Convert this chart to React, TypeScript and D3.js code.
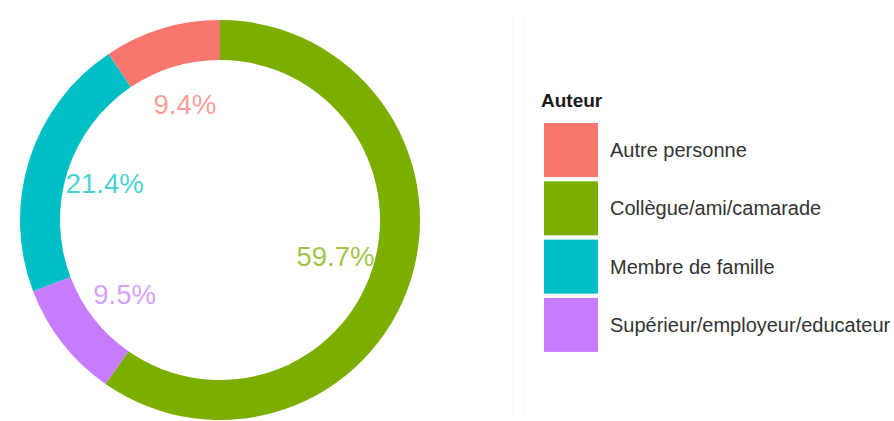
import React from "react";
import * as d3 from "d3";

const categories = [
  "Autre personne",
  "Collègue/ami/camarade",
  "Membre de famille",
  "Supérieur/employeur/educateur",
];
const colors = ["#F8766D", "#7CAE00", "#00BFC4", "#C77CFF"];
// drawing order clockwise from 12 o'clock
const ringOrder = [
  "Collègue/ami/camarade",
  "Supérieur/employeur/educateur",
  "Membre de famille",
  "Autre personne",
];
const ringValues = [59.7, 9.5, 21.4, 9.4];
const legendTitle = "Auteur";

const W = 894;
const H = 421;

export default function App() {
  const cx = 220;
  const cy = 220;
  const outerR = 200;
  const innerR = 160;
  const labelR = 121;
  const color = d3.scaleOrdinal<string, string>().domain(categories).range(colors);
  const data = ringOrder.map((c, i) => ({ cat: c, v: ringValues[i] }));
  const pie = d3
    .pie<{ cat: string; v: number }>()
    .sort(null)
    .value((d) => d.v);
  const arcs = pie(data);
  const arc = d3.arc<any>().innerRadius(innerR).outerRadius(outerR);
  const labelArc = d3.arc<any>().innerRadius(labelR).outerRadius(labelR);

  const legX = 544;
  const legY0 = 123;
  const keySize = 54;
  const keyPitch = 58.3;

  return (
    <svg
      width={W}
      height={H}
      style={{ position: "absolute", left: 0, top: 0, background: "#fff" }}
      fontFamily="'Liberation Sans', Arial, sans-serif"
    >
      <rect x={0} y={0} width={W} height={H} fill="#ffffff" />
      <line x1={513} x2={513} y1={12} y2={416} stroke="#f6f6f6" strokeWidth={1} />
      <line x1={525} x2={525} y1={12} y2={416} stroke="#f8f8f8" strokeWidth={1} />
      <g transform={`translate(${cx},${cy})`}>
        {arcs.map((a, i) => (
          <path key={i} d={arc(a) as string} fill={color(a.data.cat)} />
        ))}
        {arcs.map((a, i) => {
          const [x, y] = labelArc.centroid(a);
          return (
            <text
              key={"l" + i}
              x={x}
              y={y}
              textAnchor="middle"
              dominantBaseline="central"
              fontSize={27.5}
              fill={color(a.data.cat)}
              fillOpacity={0.72}
            >
              {a.data.v.toFixed(1)}%
            </text>
          );
        })}
      </g>
      <text x={541} y={107} fontSize={19} fontWeight="bold" fill="#1a1a1a">
        {legendTitle}
      </text>
      {categories.map((c, i) => (
        <g key={c} transform={`translate(${legX},${legY0 + i * keyPitch})`}>
          <rect width={keySize} height={keySize} fill={color(c)} />
          <text
            x={66}
            y={keySize / 2}
            dominantBaseline="central"
            fontSize={20}
            fill="#333"
          >
            {c}
          </text>
        </g>
      ))}
    </svg>
  );
}
